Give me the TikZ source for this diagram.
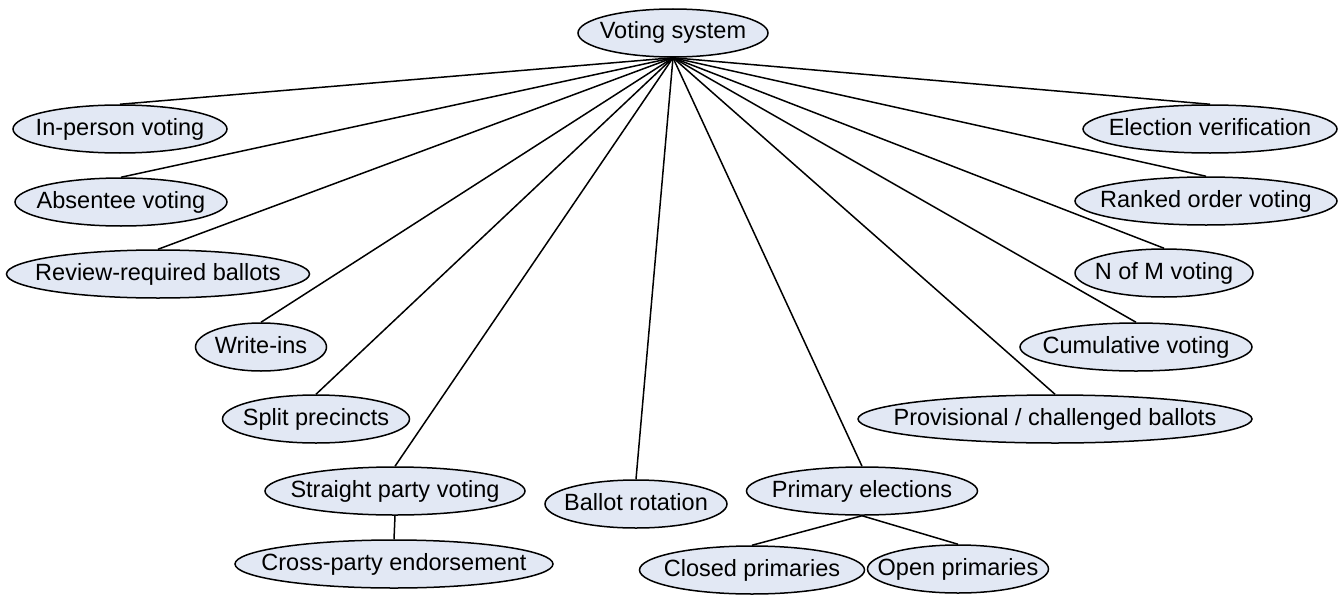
\documentclass[tikz,border=0pt]{standalone}
\usepackage{fontspec}
\setmainfont{Liberation Sans}
\usetikzlibrary{shapes.geometric}
\definecolor{bubfill}{RGB}{226,232,244}
\begin{document}
\begin{tikzpicture}[x=1pt,y=-1pt,
  bub/.style={ellipse,draw,fill=bubfill,line width=1.5pt,inner sep=0pt,
    minimum height=48pt,minimum width=#1,
    font=\fontsize{23.5}{28}\selectfont,text height=17pt,text depth=5pt,
    execute at begin node={\hbox to 0pt\bgroup\hss},
    execute at end node={\hss\egroup}},
  link/.style={line width=1.5pt}]
\useasboundingbox (0,0) rectangle (1343,594);
% root
\node[bub=190] (vs) at (673,33) {Voting system};
% left side
\node[bub=214] (inperson) at (120,129) {In-person voting};
\node[bub=212] (absentee) at (121,202) {Absentee voting};
\node[bub=303] (review) at (158,274) {Review-required ballots};
\node[bub=131] (writeins) at (261,347) {Write-ins};
\node[bub=187] (split) at (316,419) {Split precincts};
\node[bub=260] (straight) at (395,491) {Straight party voting};
\node[bub=318] (cross) at (394,564) {Cross-party endorsement};
% middle
\node[bub=182] (rotation) at (636,504) {Ballot rotation};
\node[bub=231] (primary) at (862,491) {Primary elections};
\node[bub=225] (closed) at (752,570) {Closed primaries};
\node[bub=181] (open) at (958,569) {Open primaries};
% right side
\node[bub=394] (provisional) at (1055,419) {Provisional / challenged ballots};
\node[bub=232] (cumulative) at (1136,347) {Cumulative voting};
\node[bub=178] (nofm) at (1164,273) {N of M voting};
\node[bub=262] (ranked) at (1206,201) {Ranked order voting};
\node[bub=254] (verification) at (1210,129) {Election verification};
% links
\foreach \n in {inperson,absentee,review,writeins,split,straight,rotation,
  primary,provisional,cumulative,nofm,ranked,verification}
  \draw[link] (vs.south) -- (\n.north);
\draw[link] (straight.south) -- (cross.north);
\draw[link] (primary.south) -- (closed.north);
\draw[link] (primary.south) -- (open.north);
\end{tikzpicture}
\end{document}
